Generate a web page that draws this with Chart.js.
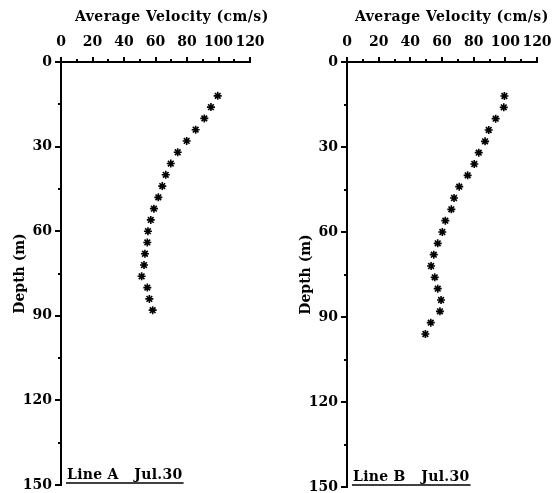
<!DOCTYPE html>
<html>
<head>
<meta charset="utf-8">
<script src="https://cdn.jsdelivr.net/npm/chart.js@4.4.1/dist/chart.umd.min.js"></script>
<style>
  body { margin: 0; background: #fff; }
  canvas { position: absolute; top: 0; }
  #chartA { left: 0; }
  #chartB { left: 277px; }
</style>
</head>
<body>
<canvas id="chartA" width="277" height="493"></canvas>
<canvas id="chartB" width="277" height="493"></canvas>
<script>
// depth of each measurement (m)
const depthA = [12, 16, 20, 24, 28, 32, 36, 40, 44, 48, 52, 56, 60, 64, 68, 72, 76, 80, 84, 88];
const depthB = [12, 16, 20, 24, 28, 32, 36, 40, 44, 48, 52, 56, 60, 64, 68, 72, 76, 80, 84, 88, 92, 96];
// average velocity (cm/s)
const velocityA = [99.5, 95.2, 91.0, 85.5, 79.8, 74.1, 69.7, 66.5, 64.3, 61.8, 59.0, 57.0, 55.2, 54.8, 53.3, 52.7, 51.2, 54.8, 56.1, 58.2];
const velocityB = [99.4, 99.0, 93.9, 89.5, 87.2, 83.2, 80.4, 76.2, 70.9, 67.6, 65.9, 62.1, 60.2, 57.3, 54.8, 53.1, 55.4, 57.3, 59.4, 58.7, 52.9, 49.5];

const xTitle = 'Average Velocity (cm/s)';
const yTitle = 'Depth (m)';
const velocityTicks = [0, 20, 40, 60, 80, 100, 120];
const depthTicks = [0, 30, 60, 90, 120, 150];

const FONT = "'DejaVu Serif', serif";

const decor = {
  id: 'decor',
  afterDraw(chart, args, opts) {
    const ctx = chart.ctx;
    const xs = chart.scales.x, ys = chart.scales.y;
    const a = chart.chartArea;
    ctx.save();
    ctx.strokeStyle = '#000';
    ctx.lineWidth = 2;
    ctx.beginPath();
    for (let v = 0; v <= 120; v += 10) {
      const px = Math.round(xs.getPixelForValue(v));
      const len = v % 20 === 0 ? 5 : 3;
      ctx.moveTo(px, a.top);
      ctx.lineTo(px, a.top - len);
    }
    for (let d = 0; d <= 150; d += 15) {
      const py = Math.round(ys.getPixelForValue(d));
      const len = d % 30 === 0 ? 6 : 3;
      ctx.moveTo(a.left, py);
      ctx.lineTo(a.left - len, py);
    }
    ctx.stroke();

    ctx.fillStyle = '#000';
    ctx.font = 'bold 14px ' + FONT;
    ctx.textBaseline = 'alphabetic';
    ctx.textAlign = 'left';
    ctx.letterSpacing = '0.45px';
    ctx.fillText(xTitle, a.left + opts.titleOffset, 21);

    // caption with underline
    ctx.letterSpacing = '0.3px';
    ctx.fillText(opts.caption, a.left + 6, a.bottom - 6);
    const w = ctx.measureText(opts.caption).width;
    ctx.lineWidth = 1.5;
    ctx.beginPath();
    ctx.moveTo(a.left + 5, a.bottom - 2);
    ctx.lineTo(a.left + 7 + w, a.bottom - 2);
    ctx.stroke();
    ctx.restore();
  }
};

function makeChart(id, depth, velocity, caption, yWidth, pad, titlePad, titleOffset) {
  const points = depth.map((d, i) => ({ x: velocity[i], y: d }));
  return new Chart(document.getElementById(id), {
    type: 'scatter',
    data: {
      datasets: [{
        data: points,
        pointStyle: 'star',
        pointRadius: 4,
        pointBorderWidth: 1.6,
        pointBorderColor: '#000',
        pointBackgroundColor: '#000'
      }]
    },
    plugins: [decor],
    options: {
      responsive: false,
      animation: false,
      layout: { padding: pad },
      plugins: {
        legend: { display: false },
        tooltip: { enabled: false },
        decor: { caption: caption, titleOffset: titleOffset }
      },
      scales: {
        x: {
          position: 'top',
          min: 0, max: 120,
          afterFit: s => { s.height = 62; s.paddingLeft = 0; s.paddingRight = 0; },
          afterBuildTicks: s => { s.ticks = velocityTicks.map(v => ({ value: v })); },
          grid: { display: false, drawTicks: false },
          border: { display: true, color: '#000', width: 2 },
          ticks: { color: '#000', padding: 11, maxRotation: 0, autoSkip: false,
                   font: { family: FONT, size: 14, weight: 'bold' } }
        },
        y: {
          reverse: true,
          min: 0, max: 150,
          afterFit: s => { s.width = yWidth; s.paddingTop = 0; s.paddingBottom = 0; },
          afterBuildTicks: s => { s.ticks = depthTicks.map(v => ({ value: v })); },
          grid: { display: false, drawTicks: false },
          border: { display: true, color: '#000', width: 2 },
          ticks: { color: '#000', padding: 9, autoSkip: false,
                   font: { family: FONT, size: 14, weight: 'bold' } },
          title: { display: true, text: yTitle, color: '#000', padding: { top: titlePad },
                   font: { family: FONT, size: 14, weight: 'bold' } }
        }
      }
    }
  });
}

makeChart('chartA', depthA, velocityA, 'Line A   Jul.30', 61, { right: 27, bottom: 8 }, 12, 14);
makeChart('chartB', depthB, velocityB, 'Line B   Jul.30', 70, { right: 17, bottom: 6 }, 21, 8);
</script>
</body>
</html>
